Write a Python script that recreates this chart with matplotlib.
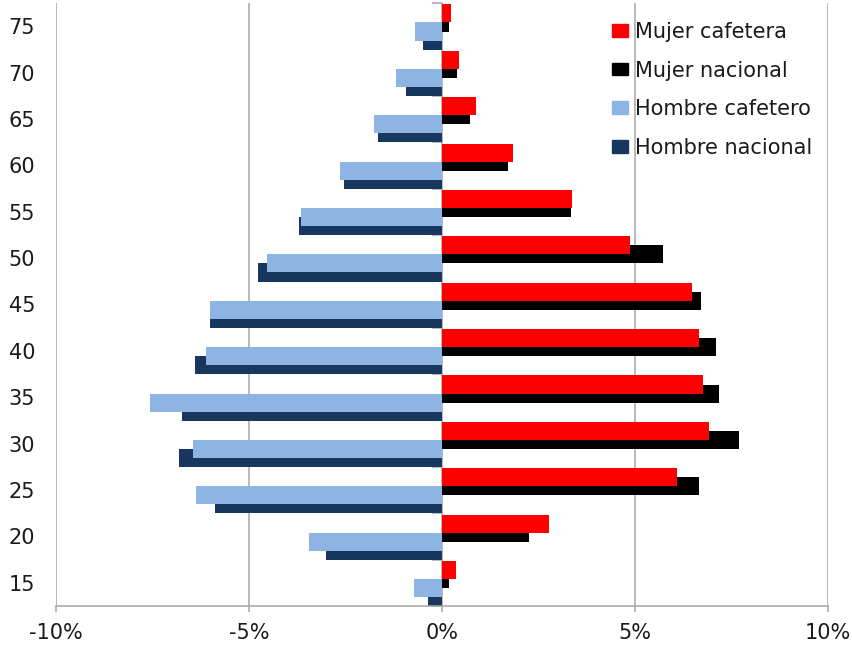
import numpy as np
import matplotlib
matplotlib.use("Agg")
import matplotlib.pyplot as plt
from matplotlib.patches import Patch

# age groups (lower bound of each 5-year group)
ages = [15, 20, 25, 30, 35, 40, 45, 50, 55, 60, 65, 70, 75]

# share of population, %
mujer_cafetera = [0.35, 2.76, 6.09, 6.91, 6.77, 6.67, 6.47, 4.87, 3.38, 1.85, 0.87, 0.45, 0.24]
mujer_nacional = [0.18, 2.25, 6.67, 7.69, 7.18, 7.11, 6.71, 5.72, 3.34, 1.71, 0.73, 0.39, 0.18]
hombre_cafetero = [0.73, 3.45, 6.37, 6.44, 7.56, 6.11, 6.00, 4.54, 3.65, 2.63, 1.75, 1.20, 0.69]
hombre_nacional = [0.35, 3.01, 5.89, 6.81, 6.74, 6.41, 6.00, 4.77, 3.71, 2.53, 1.65, 0.93, 0.49]

x_ticks = [-10, -5, 0, 5, 10]

RED = "#FF0000"
BLACK = "#000000"
LIGHT_BLUE = "#8EB4E3"
NAVY = "#17375E"
GRAY = "#A6A6A6"
TEXT = "#1A1A1A"

plt.rcParams["font.family"] = ["DejaVu Sans"]
plt.rcParams["font.size"] = 15

fig = plt.figure(figsize=(8.53, 6.48), dpi=100)
ax = fig.add_axes([56 / 853, 1 - 606 / 648, 772 / 853, 603 / 648])

y = np.arange(len(ages))
h = 0.39

# national series sit behind, shifted down half a bar
ax.barh(y + 0.08, mujer_nacional, height=h, color=BLACK, zorder=2)
ax.barh(y - 0.31, -np.array(hombre_nacional), height=h, color=NAVY, zorder=2)
ax.barh(y + 0.275, mujer_cafetera, height=h, color=RED, zorder=3)
ax.barh(y - 0.115, -np.array(hombre_cafetero), height=h, color=LIGHT_BLUE, zorder=3)

ax.set_xlim(-10, 10)
ax.set_ylim(-0.5, len(ages) - 0.5)

ax.set_xticks(x_ticks)
ax.set_xticklabels([f"{v}%" for v in x_ticks])
ax.set_yticks(y)
ax.set_yticklabels([str(a) for a in ages])
ax.tick_params(axis="y", length=0, pad=15, labelcolor=TEXT)
ax.tick_params(axis="x", length=4.5, width=1.1, color=GRAY, pad=8, labelcolor=TEXT)

for v in x_ticks:
    if v != 0:
        ax.axvline(v, color=GRAY, lw=1.1, zorder=1)

for side in ["top", "right", "left"]:
    ax.spines[side].set_visible(False)
ax.spines["bottom"].set_color(GRAY)
ax.spines["bottom"].set_linewidth(1.1)

# category axis at 0% with ticks at group boundaries
sec = ax.secondary_yaxis(0.5)
sec.set_alignment("left")
sec.set_yticks(np.arange(len(ages) + 1) - 0.5)
sec.set_yticklabels([])
sec.tick_params(axis="y", direction="out", length=7, width=1.1, color=GRAY)
for sp in sec.spines.values():
    sp.set_color(GRAY)
    sp.set_linewidth(1.1)

handles = [
    Patch(color=RED, label="Mujer cafetera"),
    Patch(color=BLACK, label="Mujer nacional"),
    Patch(color=LIGHT_BLUE, label="Hombre cafetero"),
    Patch(color=NAVY, label="Hombre nacional"),
]
leg = fig.legend(handles=handles, loc="upper left",
                 bbox_to_anchor=(612 / 853, 1 - 22 / 648),
                 frameon=False, borderpad=0, borderaxespad=0,
                 handlelength=0.77, handleheight=0.55, handletextpad=0.34,
                 labelspacing=0.89, fontsize=15)
for t in leg.get_texts():
    t.set_color(TEXT)

fig.savefig("out.png", dpi=100)
